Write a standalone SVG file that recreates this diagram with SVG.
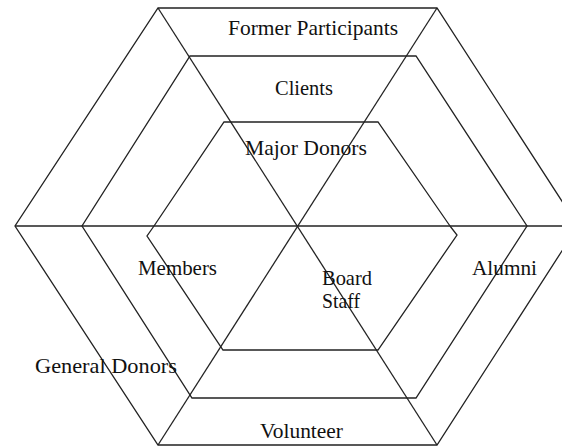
<svg xmlns="http://www.w3.org/2000/svg" width="562" height="448" viewBox="0 0 562 448">
<style>
.ln{fill:none;stroke:#222;stroke-width:1.3;stroke-linejoin:miter}
.lb{font-family:"Liberation Serif","Times New Roman",serif;font-size:21px;fill:#111}
</style>
<rect width="562" height="448" fill="#fff"/>
<g id="outer-hexagon">
<polygon class="ln" points="158,8 437,8 578,226 437,445 158,445 15,226"/>
</g>
<g id="middle-hexagon">
<polygon class="ln" points="190,56 416,56 527,226 416,398 192,398 82,226"/>
</g>
<g id="inner-hexagon">
<polyline class="ln" points="154,226 224,122 378,122 450,226"/>
<polyline class="ln" points="154,226 147,236 223,350 378,350 457,235 450,226"/>
</g>
<g id="connectors">
<line class="ln" x1="15" y1="226" x2="578" y2="226"/>
<line class="ln" x1="158" y1="8" x2="437" y2="445"/>
<line class="ln" x1="437" y1="8" x2="158" y2="445"/>
</g>
<g id="former-participants"><text class="lb" x="228" y="35" textLength="170" lengthAdjust="spacingAndGlyphs">Former Participants</text></g>
<g id="clients"><text class="lb" x="275" y="95" textLength="58" lengthAdjust="spacingAndGlyphs">Clients</text></g>
<g id="major-donors"><text class="lb" x="245" y="155" textLength="122" lengthAdjust="spacingAndGlyphs">Major Donors</text></g>
<g id="members"><text class="lb" x="138" y="275" textLength="79" lengthAdjust="spacingAndGlyphs">Members</text></g>
<g id="board-staff"><text class="lb" x="322" y="285" textLength="50" lengthAdjust="spacingAndGlyphs">Board</text><text class="lb" x="322" y="308" textLength="38" lengthAdjust="spacingAndGlyphs">Staff</text></g>
<g id="alumni"><text class="lb" x="472" y="275" textLength="65" lengthAdjust="spacingAndGlyphs">Alumni</text></g>
<g id="general-donors"><text class="lb" x="35" y="373" textLength="142" lengthAdjust="spacingAndGlyphs">General Donors</text></g>
<g id="volunteer"><text class="lb" x="260" y="438" textLength="83" lengthAdjust="spacingAndGlyphs">Volunteer</text></g>
</svg>
